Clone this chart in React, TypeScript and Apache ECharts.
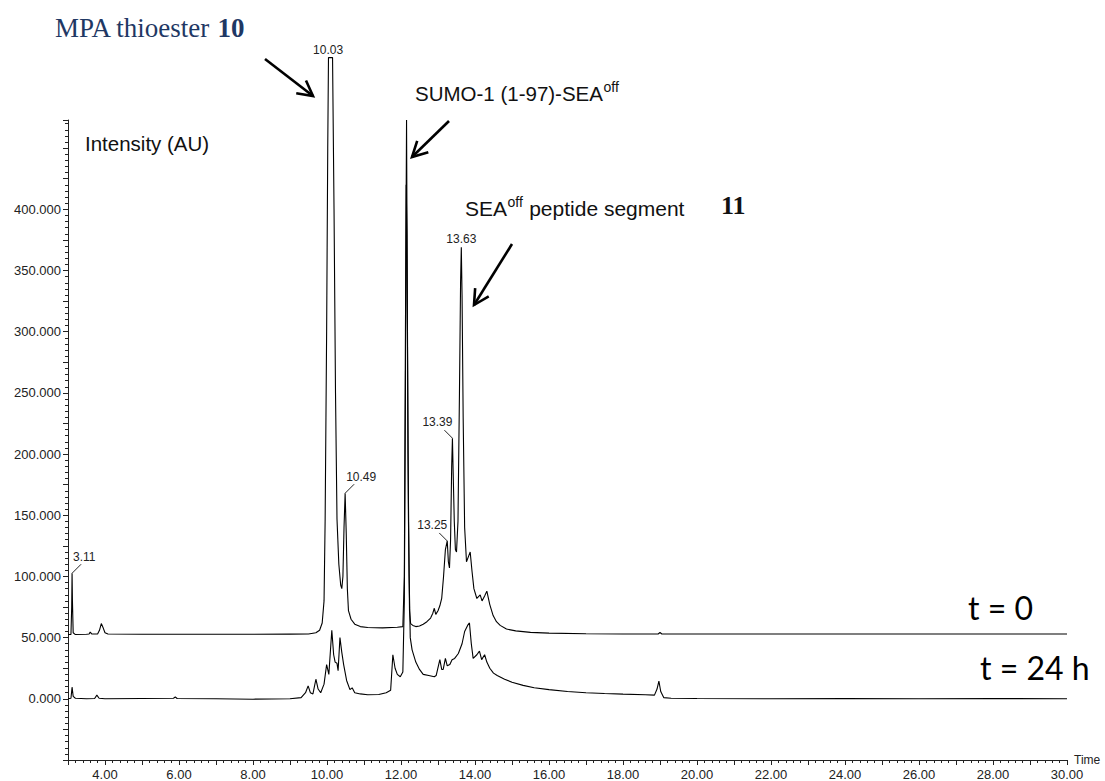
import React, { useEffect, useRef } from "react";
import * as echarts from "echarts";

// ---- data (intensity in thousands AU, time in minutes) ----
const T0_TIME = [3.00, 3.08, 3.10, 3.11, 3.12, 3.14, 3.20, 3.50, 3.57, 3.60, 3.64, 3.80, 3.85, 3.90, 3.95, 4.00, 4.08, 5.00, 6.00, 7.00, 8.00, 9.00, 9.50, 9.70, 9.80, 9.87, 9.92, 9.95, 9.99, 10.02, 10.04, 10.15, 10.19, 10.23, 10.27, 10.32, 10.37, 10.40, 10.43, 10.46, 10.49, 10.52, 10.55, 10.58, 10.65, 10.75, 10.90, 11.10, 11.50, 11.90, 12.05, 12.09, 12.12, 12.15, 12.17, 12.20, 12.23, 12.26, 12.32, 12.40, 12.50, 12.60, 12.70, 12.80, 12.86, 12.90, 12.94, 13.00, 13.05, 13.10, 13.15, 13.20, 13.25, 13.28, 13.31, 13.34, 13.37, 13.39, 13.41, 13.44, 13.47, 13.50, 13.54, 13.58, 13.61, 13.63, 13.65, 13.68, 13.72, 13.77, 13.82, 13.87, 13.92, 13.97, 14.05, 14.14, 14.19, 14.26, 14.32, 14.40, 14.49, 14.58, 14.68, 14.85, 15.10, 15.50, 16.00, 17.00, 18.00, 18.95, 19.00, 19.05, 20.00, 25.00, 30.00];
const T0_VALUE = [52.5, 52.5, 75, 102.6, 80, 54, 52.5, 52.8, 53, 54.5, 53, 53, 56, 61.5, 58, 54, 53, 52.8, 52.8, 52.8, 52.8, 52.9, 53, 54, 56, 62, 80, 147, 300, 450, 524, 524, 400, 250, 147, 110, 93, 90, 100, 140, 168, 135, 90, 72, 65, 61, 59, 58.3, 58, 58.5, 59, 100, 300, 473, 330, 150, 72, 61.5, 60, 59, 59.5, 61, 63, 66, 70, 74, 69, 72, 76, 82, 100, 122, 129, 112, 107, 130, 190, 213, 185, 145, 122, 120, 145, 250, 340, 369, 330, 230, 140, 112, 116, 120, 104, 90, 82, 85, 80, 84, 88, 77, 68, 63, 60, 57, 55.5, 54.3, 53.7, 53.2, 53, 53, 54.2, 53, 53, 53, 53];

const T24_TIME = [3.00, 3.08, 3.11, 3.14, 3.20, 3.50, 3.72, 3.78, 3.84, 4.00, 5.00, 5.85, 5.90, 5.95, 7.00, 8.00, 9.00, 9.30, 9.42, 9.49, 9.55, 9.62, 9.70, 9.76, 9.83, 9.92, 9.99, 10.05, 10.13, 10.18, 10.22, 10.27, 10.30, 10.35, 10.40, 10.45, 10.53, 10.62, 10.68, 10.75, 10.90, 11.10, 11.40, 11.60, 11.72, 11.78, 11.84, 11.90, 11.98, 12.05, 12.09, 12.12, 12.14, 12.16, 12.19, 12.22, 12.25, 12.30, 12.40, 12.50, 12.60, 12.75, 12.90, 12.95, 13.05, 13.10, 13.14, 13.20, 13.25, 13.32, 13.38, 13.45, 13.55, 13.65, 13.72, 13.80, 13.85, 13.90, 13.95, 14.05, 14.12, 14.18, 14.26, 14.32, 14.40, 14.50, 14.60, 14.80, 15.00, 15.30, 15.60, 16.00, 16.50, 17.00, 17.50, 18.00, 18.60, 18.85, 18.92, 18.97, 19.02, 19.10, 19.30, 20.00, 22.00, 24.00, 26.00, 28.00, 30.00];
const T24_VALUE = [0, 0.5, 9.5, 2, 0.5, 0, 0.3, 3, 0.5, 0, 0.3, 0.5, 1.5, 0.3, 0, -0.3, 0, 1, 5, 10.6, 5, 4, 16, 8, 5, 12, 28, 20, 56, 36, 30, 29, 23, 50, 38, 28, 15, 7.5, 9, 5, 4, 3.3, 3.5, 5, 7, 36, 25, 20, 18, 22, 80, 250, 420, 380, 200, 100, 50, 40, 30, 24, 20, 19, 18, 19, 32, 24, 24, 33, 27, 28, 32, 33, 37, 45, 55, 60, 62, 45, 33, 36, 39, 32, 36, 30, 25, 21, 19, 16, 13.5, 11, 9, 7.5, 6, 5, 4.3, 3.8, 3.3, 3, 8, 14.5, 6, 1, 0.5, 0.3, 0, 0.2, 0, 0.2, 0];

// labelled peaks: retention time, apex intensity
const PEAK_RT = [3.11, 10.03, 10.49, 13.25, 13.39, 13.63];
const PEAK_APEX = [102.6, 524, 168, 129, 213, 369];
const PEAK_SIDE = ["right", "top", "right", "left", "left", "top"];

const Y_MIN = -50;
const Y_MAX = 473;

function measure(text: string, font: string): number {
  const c = document.createElement("canvas").getContext("2d");
  if (!c) return text.length * 8;
  c.font = font;
  return c.measureText(text).width;
}

function arrow(x1: number, y1: number, x2: number, y2: number) {
  const ang = Math.atan2(y2 - y1, x2 - x1);
  const L = 17;
  const a = (28 * Math.PI) / 180;
  const p1 = [x2 - L * Math.cos(ang - a), y2 - L * Math.sin(ang - a)];
  const p2 = [x2 - L * Math.cos(ang + a), y2 - L * Math.sin(ang + a)];
  const st = { stroke: "#000", lineWidth: 2.6, fill: null as any };
  return [
    { type: "line", shape: { x1, y1, x2, y2 }, style: st },
    { type: "polyline", shape: { points: [p1, [x2, y2], p2] }, style: st },
  ];
}

export default function App() {
  const ref = useRef<HTMLDivElement>(null);
  useEffect(() => {
    if (!ref.current) return;
    const chart = echarts.init(ref.current, null, { renderer: "svg" });
    const axisColor = "#222";
    const option: any = {
      animation: false,
      backgroundColor: "#fff",
      textStyle: { fontFamily: '"Liberation Sans", Arial, sans-serif' },
      grid: { left: 68, right: 38, top: 120, bottom: 20, containLabel: false },
      xAxis: {
        type: "value",
        min: 3,
        max: 30,
        interval: 1,
        name: "Time",
        nameLocation: "end",
        nameGap: 7,
        nameTextStyle: { fontSize: 12, color: axisColor, verticalAlign: "middle" },
        axisLine: { onZero: false, lineStyle: { color: axisColor, width: 1 } },
        axisTick: { length: 5, lineStyle: { color: axisColor } },
        minorTick: { show: true, splitNumber: 5, length: 3, lineStyle: { color: axisColor } },
        axisLabel: {
          fontSize: 13,
          color: axisColor,
          margin: 8,
          formatter: (v: number) => (Math.abs(v % 2) < 1e-9 ? v.toFixed(2) : ""),
        },
        splitLine: { show: false },
      },
      yAxis: {
        type: "value",
        min: Y_MIN,
        max: Y_MAX,
        interval: 25,
        axisLine: { show: true, onZero: false, lineStyle: { color: axisColor, width: 1 } },
        axisTick: { show: true, length: 5, lineStyle: { color: axisColor } },
        minorTick: { show: true, splitNumber: 5, length: 3, lineStyle: { color: axisColor } },
        axisLabel: {
          fontSize: 13,
          color: axisColor,
          margin: 7,
          showMaxLabel: false,
          formatter: (v: number) => (v >= 0 && v <= 400 && Math.abs(v % 50) < 1e-9 ? v.toFixed(3) : ""),
        },
        splitLine: { show: false },
      },
      series: [
        {
          name: "t = 0",
          type: "line",
          data: T0_TIME.map((t, i) => [t, T0_VALUE[i]]),
          showSymbol: false,
          symbol: "none",
          clip: false,
          lineStyle: { color: "#000", width: 1.1 },
          z: 3,
        },
        {
          name: "t = 24 h",
          type: "line",
          data: T24_TIME.map((t, i) => [t, T24_VALUE[i]]),
          showSymbol: false,
          symbol: "none",
          clip: false,
          lineStyle: { color: "#000", width: 1.1 },
          z: 2,
        },
      ],
    };
    chart.setOption(option);

    const g: any[] = [];
    const sans = '"Liberation Sans", Arial, sans-serif';
    const serif = '"Liberation Serif", "Times New Roman", serif';
    const navy = "#1f3864";

    // peak labels with leader lines, anchored to the data points
    PEAK_RT.forEach((rt, i) => {
      const p = chart.convertToPixel({ gridIndex: 0 }, [rt, PEAK_APEX[i]]) as number[];
      const side = PEAK_SIDE[i];
      const txt = rt.toFixed(2);
      const st = { text: txt, fontSize: 12, fontFamily: sans, fill: "#222" };
      if (side === "top") {
        g.push({ type: "text", x: p[0], y: p[1] - 8, style: { ...st, align: "center", verticalAlign: "middle" } });
      } else if (side === "right") {
        g.push({ type: "line", shape: { x1: p[0], y1: p[1], x2: p[0] + 9, y2: p[1] - 9 }, style: { stroke: "#222", lineWidth: 1 } });
        g.push({ type: "text", x: p[0] + 1, y: p[1] - 16, style: { ...st, align: "left", verticalAlign: "middle" } });
      } else {
        g.push({ type: "line", shape: { x1: p[0], y1: p[1], x2: p[0] - 8, y2: p[1] - 8 }, style: { stroke: "#222", lineWidth: 1 } });
        g.push({ type: "text", x: p[0], y: p[1] - 16, style: { ...st, align: "right", verticalAlign: "middle" } });
      }
    });

    // Title: MPA thioester 10
    const mpaW = measure("MPA thioester ", `27px ${serif}`);
    g.push({ type: "text", x: 55, y: 28, style: { text: "MPA thioester ", fontSize: 27, fontFamily: serif, fill: navy, align: "left", verticalAlign: "middle" } });
    g.push({ type: "text", x: 55 + mpaW, y: 28, style: { text: "10", fontSize: 27, fontWeight: "bold", fontFamily: serif, fill: navy, align: "left", verticalAlign: "middle" } });

    // y axis title
    g.push({ type: "text", x: 85, y: 143, style: { text: "Intensity (AU)", fontSize: 20.5, fontFamily: sans, fill: "#111", align: "left", verticalAlign: "middle" } });

    // SUMO-1 (1-97)-SEAoff
    const sumoMain = "SUMO-1 (1-97)-SEA";
    const sumoW = measure(sumoMain, `20.5px ${sans}`);
    g.push({ type: "text", x: 415, y: 93, style: { text: sumoMain, fontSize: 20.5, fontFamily: sans, fill: "#111", align: "left", verticalAlign: "middle" } });
    g.push({ type: "text", x: 415 + sumoW + 0.5, y: 87, style: { text: "off", fontSize: 14, fontFamily: sans, fill: "#111", align: "left", verticalAlign: "middle" } });

    // SEAoff peptide segment 11
    const seaW = measure("SEA", `21px ${sans}`);
    const offW = measure("off", `14px ${sans}`);
    g.push({ type: "text", x: 465, y: 208, style: { text: "SEA", fontSize: 21, fontFamily: sans, fill: "#111", align: "left", verticalAlign: "middle" } });
    g.push({ type: "text", x: 465 + seaW + 0.5, y: 202, style: { text: "off", fontSize: 14, fontFamily: sans, fill: "#111", align: "left", verticalAlign: "middle" } });
    g.push({ type: "text", x: 465 + seaW + offW + 1, y: 208, style: { text: " peptide segment", fontSize: 21, fontFamily: sans, fill: "#111", align: "left", verticalAlign: "middle" } });
    g.push({ type: "text", x: 721, y: 205, style: { text: "11", fontSize: 26, fontWeight: "bold", fontFamily: serif, fill: "#111", align: "left", verticalAlign: "middle" } });

    // trace labels
    g.push({ type: "text", x: 968, y: 607, style: { text: "t = 0", fontSize: 32, fontFamily: "Lato, 'Open Sans', sans-serif", fill: "#000", align: "left", verticalAlign: "middle" } });
    g.push({ type: "text", x: 980, y: 667, style: { text: "t = 24 h", fontSize: 32, fontFamily: "Lato, 'Open Sans', sans-serif", fill: "#000", align: "left", verticalAlign: "middle" } });

    // arrows
    g.push(...arrow(265, 59, 313, 96));
    g.push(...arrow(449, 121, 412, 157));
    g.push(...arrow(512, 244, 474, 305));

    chart.setOption({ graphic: g.map((e) => ({ ...e, z: 100 })) });

    return () => chart.dispose();
  }, []);
  return (
    <div
      ref={ref}
      style={{ position: "fixed", left: 0, top: 0, width: 1105, height: 781, background: "#fff" }}
    />
  );
}
